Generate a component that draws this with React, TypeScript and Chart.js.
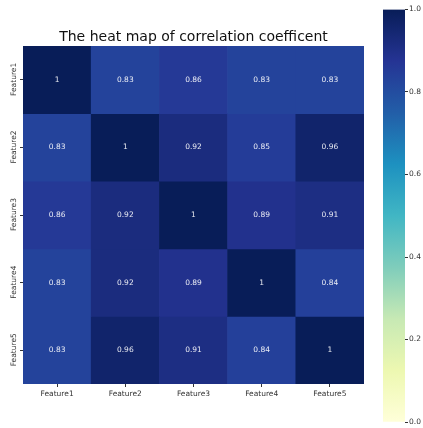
import React, { useEffect, useRef } from "react";
import { Chart, registerables } from "chart.js";

Chart.register(...registerables);

// Feature names used on both axes
const featureLabels = ["Feature1", "Feature2", "Feature3", "Feature4", "Feature5"];

// Correlation coefficients, one array per row (top to bottom)
const rowFeature1 = [1, 0.83, 0.86, 0.83, 0.83];
const rowFeature2 = [0.83, 1, 0.92, 0.85, 0.96];
const rowFeature3 = [0.86, 0.92, 1, 0.89, 0.91];
const rowFeature4 = [0.83, 0.92, 0.89, 1, 0.84];
const rowFeature5 = [0.83, 0.96, 0.91, 0.84, 1];
const correlationRows = [rowFeature1, rowFeature2, rowFeature3, rowFeature4, rowFeature5];

// Colour bar range and tick values
const colorbarMin = 0;
const colorbarMax = 1;
const colorbarTicks = [0, 0.2, 0.4, 0.6, 0.8, 1.0];

// YlGnBu colour map stops
const ylGnBu: [number, number, number][] = [
  [255, 255, 217],
  [237, 248, 177],
  [199, 233, 180],
  [127, 205, 187],
  [65, 182, 196],
  [29, 145, 192],
  [34, 94, 168],
  [37, 52, 148],
  [8, 29, 88],
];

function colorFor(v: number): string {
  const t = Math.min(1, Math.max(0, (v - colorbarMin) / (colorbarMax - colorbarMin)));
  const pos = t * (ylGnBu.length - 1);
  const i = Math.min(ylGnBu.length - 2, Math.floor(pos));
  const f = pos - i;
  const a = ylGnBu[i];
  const b = ylGnBu[i + 1];
  const c = a.map((x, k) => Math.round(x + (b[k] - x) * f));
  return `rgb(${c[0]},${c[1]},${c[2]})`;
}

function fmt(v: number): string {
  return String(Number(v.toPrecision(2)));
}

const FONT = "'DejaVu Sans', sans-serif";
const TICK_COLOR = "#333333";

// Writes each coefficient in the middle of its cell
const cellLabelPlugin = {
  id: "cellLabels",
  afterDatasetsDraw(chart: any) {
    const ctx = chart.ctx;
    ctx.save();
    ctx.font = `7.5px ${FONT}`;
    ctx.fillStyle = "rgba(255,255,255,0.9)";
    ctx.textAlign = "center";
    ctx.textBaseline = "middle";
    chart.data.datasets.forEach((ds: any, r: number) => {
      const meta = chart.getDatasetMeta(r);
      meta.data.forEach((bar: any, c: number) => {
        const y = (bar.y + bar.base) / 2;
        ctx.fillText(fmt(correlationRows[r][c]), bar.x, y);
      });
    });
    ctx.restore();
  },
};

function Heatmap() {
  const ref = useRef<HTMLCanvasElement>(null);
  useEffect(() => {
    if (!ref.current) return;
    const chart = new Chart(ref.current, {
      type: "bar",
      data: {
        labels: featureLabels,
        datasets: correlationRows.map((row, r) => ({
          label: featureLabels[r],
          data: row.map(() => [r, r + 1]) as any,
          backgroundColor: row.map(colorFor),
          borderWidth: 0,
          grouped: false,
          barPercentage: 1,
          categoryPercentage: 1,
        })),
      },
      options: {
        animation: false,
        responsive: false,
        events: [],
        layout: { padding: 0 },
        plugins: {
          legend: { display: false },
          tooltip: { enabled: false },
          title: {
            display: true,
            text: "The heat map of correlation coefficent",
            fullSize: false,
            color: "#111111",
            font: { family: FONT, size: 14, weight: "normal", lineHeight: 1 },
            padding: { top: 30.5, bottom: 1.5 },
          },
        },
        scales: {
          x: {
            type: "category",
            offset: true,
            afterFit: (s: any) => {
              s.height = 44;
            },
            border: { display: false },
            grid: {
              offset: false,
              drawOnChartArea: false,
              tickLength: 3,
              color: TICK_COLOR,
            },
            ticks: {
              color: TICK_COLOR,
              font: { family: FONT, size: 7.5 },
              maxRotation: 0,
              minRotation: 0,
              padding: 3,
              autoSkip: false,
            },
          },
          y: {
            type: "linear",
            min: 0,
            max: featureLabels.length,
            reverse: true,
            afterBuildTicks: (s: any) => {
              s.ticks = featureLabels.map((_, i) => ({ value: i + 0.5 }));
            },
            afterFit: (s: any) => {
              s.width = 23;
            },
            border: { display: false },
            grid: {
              drawOnChartArea: false,
              tickLength: 3,
              color: TICK_COLOR,
            },
            ticks: {
              color: TICK_COLOR,
              font: { family: FONT, size: 7.5 },
              minRotation: 90,
              maxRotation: 90,
              crossAlign: "near",
              labelOffset: -17,
              padding: 6,
              autoSkip: false,
              callback: (v: any) => featureLabels[Math.floor(Number(v))],
            },
          },
        },
      } as any,
      plugins: [cellLabelPlugin],
    });
    return () => chart.destroy();
  }, []);
  return (
    <canvas
      ref={ref}
      width={364}
      height={428}
      style={{ position: "absolute", left: 0, top: 0, width: 364, height: 428 }}
    />
  );
}

function Colorbar() {
  const ref = useRef<HTMLCanvasElement>(null);
  useEffect(() => {
    if (!ref.current) return;
    const chart = new Chart(ref.current, {
      type: "bar",
      data: {
        labels: [""],
        datasets: [
          {
            label: "scale",
            data: [[colorbarMin, colorbarMax]] as any,
            backgroundColor: (ctx: any) => {
              const area = ctx.chart.chartArea;
              if (!area) return colorFor(colorbarMax);
              const g = ctx.chart.ctx.createLinearGradient(0, area.bottom, 0, area.top);
              ylGnBu.forEach((c, i) => {
                g.addColorStop(i / (ylGnBu.length - 1), `rgb(${c[0]},${c[1]},${c[2]})`);
              });
              return g;
            },
            borderWidth: 0,
            barPercentage: 1,
            categoryPercentage: 1,
          },
        ],
      },
      options: {
        animation: false,
        responsive: false,
        events: [],
        layout: { padding: { top: 9.5, bottom: 6, left: 8, right: 0 } },
        plugins: { legend: { display: false }, tooltip: { enabled: false } },
        scales: {
          x: { display: false },
          y: {
            position: "right",
            min: colorbarMin,
            max: colorbarMax,
            afterBuildTicks: (s: any) => {
              s.ticks = colorbarTicks.map((v) => ({ value: v }));
            },
            afterFit: (s: any) => {
              s.width = 18;
            },
            border: { display: false },
            grid: { drawOnChartArea: false, tickLength: 3, color: TICK_COLOR },
            ticks: {
              color: TICK_COLOR,
              font: { family: FONT, size: 7.5 },
              padding: 1,
              callback: (v: any) => Number(v).toFixed(1),
            },
          },
        },
      } as any,
    });
    return () => chart.destroy();
  }, []);
  return (
    <canvas
      ref={ref}
      width={48}
      height={428}
      style={{ position: "absolute", left: 375, top: 0, width: 48, height: 428 }}
    />
  );
}

export default function App() {
  return (
    <div
      style={{
        position: "absolute",
        left: 0,
        top: 0,
        width: 423,
        height: 428,
        background: "#ffffff",
        overflow: "hidden",
      }}
    >
      <Heatmap />
      <Colorbar />
    </div>
  );
}
